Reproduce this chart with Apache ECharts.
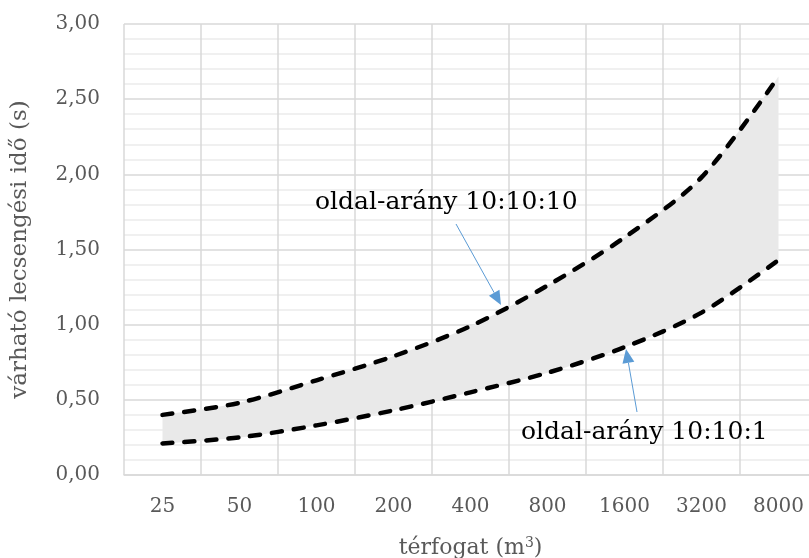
<!DOCTYPE html>
<html>
<head>
<meta charset="utf-8">
<script src="https://cdn.jsdelivr.net/npm/echarts@6/dist/echarts.min.js"></script>
<style>
  html, body { margin: 0; padding: 0; background: #fff; }
  #chart { width: 809px; height: 558px; }
</style>
</head>
<body>
<div id="chart"></div>
<script>
// Room volume categories (m³)
var volumes = ['25', '50', '100', '200', '400', '800', '1600', '3200', '8000'];
// Expected reverberation time (s) for the two aspect ratios
var ratioCube = [0.40, 0.48, 0.63, 0.79, 0.99, 1.26, 1.58, 1.98, 2.65];   // 10:10:10
var ratioFlat = [0.21, 0.25, 0.33, 0.43, 0.55, 0.68, 0.85, 1.08, 1.43];   // 10:10:1
var yTicks = [0, 0.5, 1, 1.5, 2, 2.5, 3];

var SERIF = '"DejaVu Serif", serif';
var BLUE = '#5b9bd5';

// Thickness of the shaded band between the two curves
var bandSpan = ratioCube.map(function (v, i) { return +(v - ratioFlat[i]).toFixed(3); });

function arrow(x1, y1, x2, y2) {
  var dx = x2 - x1, dy = y2 - y1, len = Math.sqrt(dx * dx + dy * dy);
  var ux = dx / len, uy = dy / len, head = 14, half = 6;
  var bx = x2 - ux * head, by = y2 - uy * head;
  return [
    { type: 'line', shape: { x1: x1, y1: y1, x2: bx, y2: by },
      style: { stroke: BLUE, lineWidth: 1 }, z: 100 },
    { type: 'polygon', shape: { points: [[x2, y2], [bx - uy * half, by + ux * half], [bx + uy * half, by - ux * half]] },
      style: { fill: BLUE }, z: 100 }
  ];
}

var chart = echarts.init(document.getElementById('chart'), null, { renderer: 'canvas' });

var dashed = {
  color: '#000', width: 4.5, type: [10, 12], cap: 'round'
};

chart.setOption({
  animation: false,
  backgroundColor: '#fff',
  grid: { left: 124, top: 24, width: 693, height: 451, containLabel: false, outerBoundsMode: 'none' },
  xAxis: {
    type: 'category',
    data: volumes,
    boundaryGap: true,
    axisLine: { lineStyle: { color: '#d9d9d9', width: 1.5 } },
    axisTick: { show: false },
    axisLabel: { color: '#595959', fontFamily: SERIF, fontSize: 20, margin: 22 },
    splitLine: { show: true, interval: 0, lineStyle: { color: '#d9d9d9', width: 1.5 } },
    name: '{t|térfogat (m}{s|3}{t|)}',
    nameLocation: 'middle',
    nameGap: 61,
    nameTextStyle: {
      rich: {
        t: { color: '#595959', fontFamily: SERIF, fontSize: 22 },
        s: { color: '#595959', fontFamily: SERIF, fontSize: 14, verticalAlign: 'top', padding: [0, 0, 11, 0] }
      }
    }
  },
  yAxis: {
    type: 'value',
    min: yTicks[0],
    max: yTicks[yTicks.length - 1],
    interval: yTicks[1] - yTicks[0],
    axisLine: { show: false },
    axisTick: { show: false },
    axisLabel: {
      color: '#595959', fontFamily: SERIF, fontSize: 20, margin: 24,
      formatter: function (v) { return v.toFixed(2).replace('.', ','); }
    },
    splitLine: { lineStyle: { color: '#d9d9d9', width: 1.5 } },
    minorTick: { show: false, splitNumber: 5 },
    minorSplitLine: { show: true, lineStyle: { color: '#ececec', width: 1.5 } },
    name: 'várható lecsengési idő (s)',
    nameLocation: 'middle',
    nameGap: 92,
    nameTextStyle: { color: '#595959', fontFamily: SERIF, fontSize: 23 }
  },
  series: [
    {
      name: 'alap', type: 'line', data: ratioFlat, stack: 'band', smooth: 0.3,
      symbol: 'none', lineStyle: { opacity: 0 }, silent: true, z: 1
    },
    {
      name: 'sáv', type: 'line', data: bandSpan, stack: 'band', smooth: 0.3,
      symbol: 'none', lineStyle: { opacity: 0 },
      areaStyle: { color: '#e9e9e9', opacity: 1 }, silent: true, z: 1
    },
    {
      name: 'oldal-arány 10:10:10', type: 'line', data: ratioCube, smooth: 0.3,
      symbol: 'none', lineStyle: dashed, z: 5
    },
    {
      name: 'oldal-arány 10:10:1', type: 'line', data: ratioFlat, smooth: 0.3,
      symbol: 'none', lineStyle: dashed, z: 5
    }
  ],
  graphic: [
    { type: 'text', left: 315, top: 190,
      style: { text: 'oldal-arány 10:10:10', fill: '#000', font: '25px ' + SERIF }, z: 100 },
    { type: 'text', left: 521, top: 420,
      style: { text: 'oldal-arány 10:10:1', fill: '#000', font: '25px ' + SERIF }, z: 100 }
  ].concat(arrow(456, 224, 501, 305), arrow(637, 412, 626, 349))
});
</script>
</body>
</html>
